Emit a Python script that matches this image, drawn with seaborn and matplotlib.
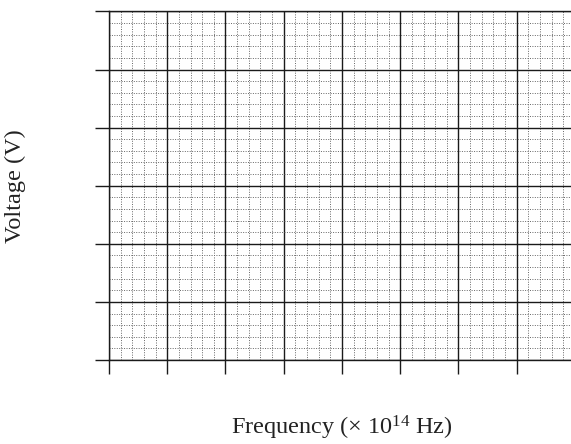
import matplotlib
matplotlib.use("Agg")
import matplotlib.pyplot as plt
from matplotlib.ticker import MultipleLocator
import seaborn as sns

# blank graph paper: 8 x 6 major squares, each split in 5
x_limits = [0, 8]
y_limits = [0, 6]
major_step = 1
minor_step = 0.2
x_label = "Frequency (\u00d7 10$^{14}$ Hz)"
y_label = "Voltage (V)"

sns.set_theme(style="white")
plt.rcParams["font.family"] = ["Liberation Serif", "DejaVu Serif"]
plt.rcParams["mathtext.fontset"] = "custom"
plt.rcParams["mathtext.rm"] = "Liberation Serif"
plt.rcParams["mathtext.it"] = "Liberation Serif"
plt.rcParams["mathtext.default"] = "regular"

fig = plt.figure(figsize=(5.71, 4.44), dpi=100)
ax = fig.add_axes([0.1909, 0.1892, 0.816, 0.785])

ax.set_xlim(x_limits)
ax.set_ylim(y_limits)
ax.xaxis.set_major_locator(MultipleLocator(major_step))
ax.yaxis.set_major_locator(MultipleLocator(major_step))
ax.xaxis.set_minor_locator(MultipleLocator(minor_step))
ax.yaxis.set_minor_locator(MultipleLocator(minor_step))

ax.grid(which="major", color="#1a1a1a", linestyle="-", linewidth=1.0)
ax.grid(which="minor", color="#666666", linestyle=(0, (1, 1.5)), linewidth=0.7)

ax.tick_params(which="major", direction="out", length=10, width=1.0,
               color="#1a1a1a", labelbottom=False, labelleft=False,
               bottom=True, left=True)
ax.tick_params(which="minor", length=0)

for side in ["left", "bottom", "top"]:
    ax.spines[side].set_color("#1a1a1a")
    ax.spines[side].set_linewidth(1.0)
ax.spines["right"].set_visible(False)

ax.set_xlabel(x_label, fontsize=17.5, color="#222222", labelpad=29)
ax.set_ylabel(y_label, fontsize=17.5, color="#222222", labelpad=50)

fig.savefig("out.png", dpi=100)
